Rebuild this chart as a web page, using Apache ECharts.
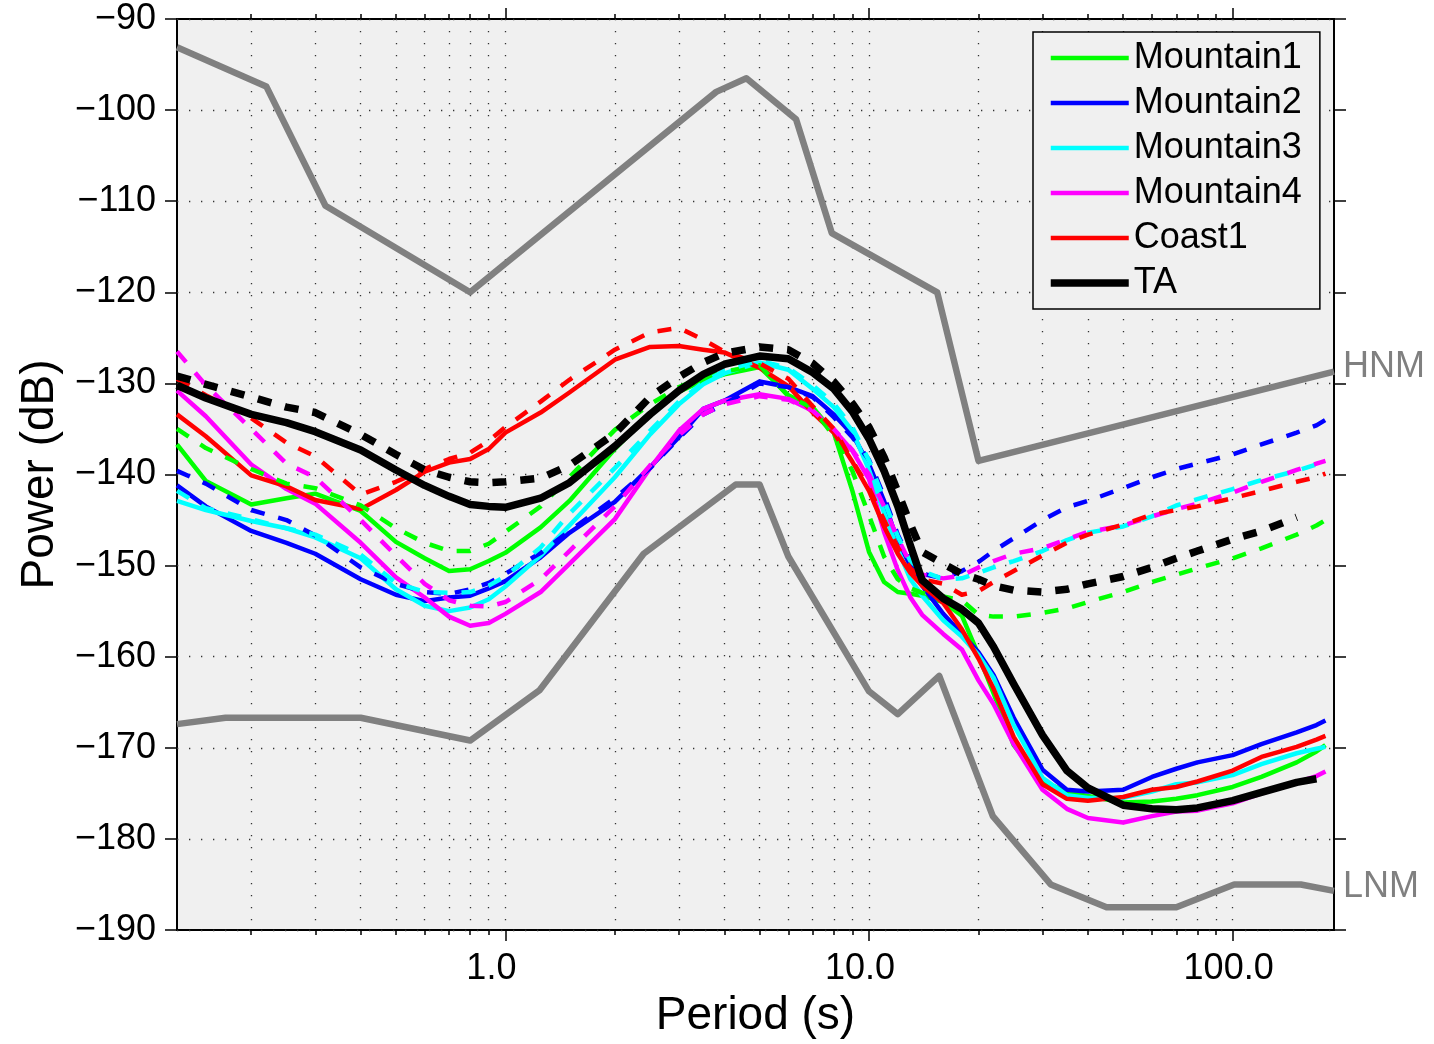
<!DOCTYPE html>
<html>
<head>
<meta charset="utf-8">
<title>PSD</title>
<script src="https://cdn.jsdelivr.net/npm/echarts@6/dist/echarts.min.js"></script>
<style>
html, body { margin: 0; padding: 0; background: #fff; }
#psdChart { width: 1434px; height: 1044px; }
</style>
</head>
<body>
<div id="psdChart"></div>
<script>
var psdChart = echarts.init(document.getElementById('psdChart'), null, { renderer: 'canvas' });

// period grid (s) shared by the station curves
var periods = [0.125, 0.15, 0.2, 0.25, 0.3, 0.4, 0.5, 0.6, 0.7, 0.8,
    0.9, 1.0, 1.25, 1.5, 2, 2.5, 3, 3.5, 4, 5,
    6, 7, 8, 9, 10, 11, 12, 13, 14, 16,
    18, 20, 22, 25, 30, 35, 40, 50, 60, 70,
    80, 100, 120, 150, 170, 180];

var mountain1 = [-136.7, -140.7, -143.3, -142.6, -142.1, -144.0, -147.4, -149.2, -150.6, -150.4,
    -149.5, -148.6, -145.8, -142.9, -137.2, -133.3, -130.9, -129.7, -129.0, -128.2,
    -131.3, -132.6, -135.4, -141.8, -148.5, -151.8, -152.9, -153.1, -153.3, -154.0,
    -155.5, -159.8, -164.0, -169.7, -173.7, -174.8, -175.3, -176.0, -175.9, -175.6,
    -175.2, -174.3, -173.2, -171.6, -170.4, -169.7];
var mountain1Dash = [-135.0, -137.1, -139.4, -141.0, -141.5, -143.4, -145.9, -147.5, -148.4, -148.4,
    -147.6, -146.3, -143.5, -140.3, -135.1, -132.3, -130.4, -129.3, -128.7, -128.0,
    -131.4, -132.7, -135.8, -139.6, -144.5, -149.0, -151.5, -152.5, -153.0, -153.4,
    -153.8, -155.4, -155.6, -155.6, -155.2, -154.7, -154.0, -152.9, -151.8, -151.0,
    -150.3, -149.2, -148.1, -146.6, -145.6, -145.0];

var mountain2 = [-141.2, -143.5, -146.2, -147.5, -148.7, -151.5, -153.2, -153.9, -153.5, -153.3,
    -152.5, -151.7, -149.1, -146.4, -143.0, -139.2, -135.9, -132.8, -131.9, -129.8,
    -130.4, -131.4, -133.4, -135.6, -138.9, -142.9, -147.4, -150.0, -152.2, -155.3,
    -157.5, -159.5, -162.0, -166.7, -172.4, -174.6, -174.8, -174.6, -173.2, -172.3,
    -171.6, -170.8, -169.6, -168.3, -167.5, -167.0];
var mountain2Dash = [-139.6, -141.0, -143.9, -145.0, -146.7, -150.2, -152.0, -152.9, -153.1, -152.6,
    -151.9, -150.9, -148.6, -146.2, -142.6, -139.3, -136.0, -133.4, -132.3, -130.0,
    -130.4, -131.5, -133.7, -135.9, -138.4, -142.4, -146.6, -149.5, -150.9, -151.4,
    -150.6, -149.6, -148.4, -147.0, -145.0, -143.6, -142.9, -141.5, -140.3, -139.4,
    -138.8, -137.8, -136.7, -135.4, -134.6, -134.0];

var mountain3 = [-142.9, -143.9, -145.1, -145.9, -146.9, -149.2, -152.6, -154.4, -155.0, -154.6,
    -153.7, -152.3, -148.9, -145.6, -140.3, -135.6, -132.3, -130.1, -128.9, -127.7,
    -128.5, -130.6, -132.6, -135.2, -139.5, -144.2, -148.2, -151.5, -153.3, -156.0,
    -157.8, -159.8, -162.3, -167.5, -173.3, -175.2, -175.5, -175.5, -174.8, -174.0,
    -173.8, -173.0, -171.8, -170.6, -170.1, -169.9];
var mountain3Dash = [-141.8, -143.7, -144.9, -145.9, -146.6, -148.8, -151.9, -152.9, -153.0, -152.9,
    -152.2, -151.2, -148.0, -144.3, -139.3, -135.2, -132.0, -129.9, -128.6, -127.5,
    -128.3, -130.2, -132.2, -134.8, -138.5, -142.8, -146.8, -149.5, -150.6, -151.5,
    -151.4, -150.8, -150.2, -149.5, -148.4, -147.2, -146.4, -145.7, -144.6, -143.4,
    -142.7, -141.6, -140.6, -139.6, -138.9, -138.5];

var mountain4 = [-130.8, -133.6, -138.9, -141.6, -143.2, -147.5, -151.3, -153.5, -155.6, -156.6,
    -156.3, -155.3, -152.9, -149.8, -144.9, -139.3, -135.2, -132.8, -131.9, -131.2,
    -131.7, -133.0, -135.1, -137.4, -140.5, -146.3, -150.5, -153.5, -155.4, -157.5,
    -159.2, -162.6, -165.2, -169.6, -174.6, -176.7, -177.7, -178.2, -177.5, -177.0,
    -176.9, -176.1, -175.0, -173.8, -173.1, -172.6];
var mountain4Dash = [-126.5, -130.2, -135.0, -138.8, -140.3, -145.0, -148.9, -152.0, -153.8, -154.4,
    -154.5, -154.0, -151.5, -148.4, -143.5, -139.0, -135.7, -133.4, -132.3, -131.4,
    -131.8, -133.0, -135.0, -137.3, -140.0, -143.5, -147.0, -149.8, -151.0, -151.4,
    -151.1, -150.2, -149.5, -148.7, -148.1, -147.1, -146.3, -145.6, -144.6, -143.8,
    -143.2, -142.0, -140.8, -139.5, -138.8, -138.5];

var coast1 = [-133.4, -135.8, -140.1, -141.3, -142.8, -143.8, -141.7, -139.7, -138.7, -138.3,
    -137.2, -135.4, -133.2, -131.0, -127.4, -126.0, -125.9, -126.3, -126.6, -128.3,
    -130.3, -133.2, -135.4, -138.6, -141.8, -145.7, -148.7, -150.8, -152.2, -154.1,
    -157.0, -160.2, -163.5, -168.8, -174.0, -175.6, -175.8, -175.4, -174.6, -174.3,
    -173.7, -172.5, -171.0, -169.9, -169.1, -168.7];
var coast1Dash = [-129.5, -131.3, -133.8, -136.5, -138.0, -142.2, -140.8, -139.4, -138.3, -137.6,
    -136.3, -134.8, -132.0, -129.6, -126.3, -124.4, -123.9, -125.2, -126.5, -127.8,
    -129.5, -132.5, -135.0, -138.5, -141.5, -145.0, -148.0, -150.3, -151.5, -152.0,
    -153.2, -152.8, -151.8, -150.6, -148.9, -147.5, -146.6, -145.5, -144.4, -143.9,
    -143.5, -142.6, -141.8, -140.8, -140.3, -139.9];

var ta = [-130.2, -131.6, -133.4, -134.3, -135.3, -137.3, -139.5, -141.2, -142.4, -143.3,
    -143.5, -143.6, -142.6, -140.9, -136.9, -133.4, -130.8, -129.0, -127.9, -127.0,
    -127.3, -128.8, -130.6, -133.1, -136.1, -139.6, -143.5, -147.8, -151.6, -153.6,
    -154.8, -156.3, -158.9, -163.0, -168.6, -172.5, -174.4, -176.3, -176.7, -176.8,
    -176.6, -175.8, -174.9, -173.8, -173.4, null];
var taDash = [-129.2, -130.1, -131.5, -132.6, -133.2, -135.6, -137.8, -139.5, -140.3, -140.8,
    -140.9, -140.8, -140.4, -139.0, -135.5, -131.5, -129.3, -127.7, -126.7, -126.0,
    -126.3, -127.8, -129.8, -132.2, -134.8, -138.1, -141.9, -145.5, -148.5, -149.8,
    -150.9, -151.5, -152.2, -152.7, -152.9, -152.6, -152.0, -151.2, -150.2, -149.2,
    -148.4, -147.1, -146.2, -144.7, null, null];

// Peterson noise models as drawn
var hnmPeriods = [0.125, 0.22, 0.32, 0.8, 3.8, 4.6, 6.3, 7.9, 15.4, 20, 190];
var hnmValues = [-93.1, -97.4, -110.5, -120.0, -98.0, -96.5, -101.0, -113.5, -120.0, -138.5, -128.7];
var lnmPeriods = [0.125, 0.17, 0.4, 0.8, 1.24, 2.4, 4.3, 5.0, 6.0, 10, 12, 15.6, 21.9, 31.6, 45, 70, 101, 154, 190];
var lnmValues = [-167.4, -166.7, -166.7, -169.2, -163.7, -148.7, -141.1, -141.1, -149.0, -163.8,
    -166.3, -162.1, -177.5, -185.0, -187.5, -187.5, -185.0, -185.0, -185.7];

var majorTicks = [1, 10, 100];
var majorLabels = ['1.0', '10.0', '100.0'];
var minorTicks = [0.2, 0.3, 0.4, 0.5, 0.6, 0.7, 0.8, 0.9, 1,
    2, 3, 4, 5, 6, 7, 8, 9, 10,
    20, 30, 40, 50, 60, 70, 80, 90, 100];

var xMin = 0.125, xMax = 190;
var font = '"Liberation Sans", Arial, Helvetica, sans-serif';
var tickStyle = { color: '#000', width: 1.5 };
var dotStyle = { color: '#333', width: 1.3, type: [1.3, 10.7] };

var pairs = function (xs, ys) {
    var out = [];
    for (var i = 0; i < xs.length; i++) {
        if (ys[i] != null) out.push([xs[i], ys[i]]);
    }
    return out;
};

var makeLine = function (name, xs, ys, color, width, dashed, z) {
    return {
        name: name,
        type: 'line',
        xAxisIndex: 0,
        yAxisIndex: 0,
        data: pairs(xs, ys),
        symbol: 'none',
        silent: true,
        z: z,
        lineStyle: { color: color, width: width, type: dashed ? [14, 14] : 'solid', cap: 'butt', join: 'round' },
        itemStyle: { color: color }
    };
};

var logPos = function (arr) { return arr.map(function (v) { return Math.log10(v); }); };

var decoAxis = function (position, ticks, len, split) {
    return {
        type: 'value',
        position: position,
        min: Math.log10(xMin),
        max: Math.log10(xMax),
        axisLine: { show: false, onZero: false },
        axisTick: { show: true, customValues: logPos(ticks), length: len, lineStyle: tickStyle },
        axisLabel: { show: false },
        splitLine: { show: split, lineStyle: dotStyle }
    };
};

var labelAxis = decoAxis('bottom', majorTicks, 11, false);
labelAxis.axisLabel = {
    show: true,
    customValues: logPos(majorTicks),
    fontSize: 36,
    fontFamily: font,
    color: '#000',
    margin: 21,
    formatter: function (v) {
        for (var i = 0; i < majorTicks.length; i++) {
            if (Math.abs(Math.log10(majorTicks[i]) - v) < 1e-6) return '{t' + i + '|' + majorLabels[i] + '}';
        }
        return '';
    },
    rich: {
        t0: { fontSize: 36, fontFamily: font, color: '#000', padding: [0, 28, 0, 0] },
        t1: { fontSize: 36, fontFamily: font, color: '#000', padding: [0, 18, 0, 0] },
        t2: { fontSize: 36, fontFamily: font, color: '#000', padding: [0, 8, 0, 0] }
    }
};
labelAxis.name = 'Period (s)';
labelAxis.nameLocation = 'middle';
labelAxis.nameGap = 63;
labelAxis.nameTextStyle = { fontSize: 46, fontFamily: font, color: '#000' };

var hnmSeries = makeLine('HNM', hnmPeriods, hnmValues, '#808080', 6.5, false, 2);
var lnmSeries = makeLine('LNM', lnmPeriods, lnmValues, '#808080', 6.5, false, 2);
[hnmSeries, lnmSeries].forEach(function (s) {
    s.endLabel = { show: true, formatter: '{a}', color: '#808080', fontSize: 36, fontFamily: font, distance: 9, offset: [0, -4] };
});

var option = {
    animation: false,
    backgroundColor: '#fff',
    grid: {
        left: 177, right: 100, top: 19, bottom: 112,
        show: true, backgroundColor: '#f0f0f0', borderColor: '#000', borderWidth: 2
    },
    legend: {
        data: ['Mountain1', 'Mountain2', 'Mountain3', 'Mountain4', 'Coast1', 'TA'],
        orient: 'vertical',
        left: 1033,
        top: 32,
        padding: [8, 18, 8, 14],
        itemGap: 9,
        itemWidth: 78,
        itemHeight: 1,
        backgroundColor: '#f0f0f0',
        borderColor: '#000',
        borderWidth: 1.5,
        selectedMode: false,
        itemStyle: { opacity: 0 },
        lineStyle: { width: 'inherit' },
        textStyle: { fontSize: 36, lineHeight: 36, color: '#000', fontFamily: font }
    },
    xAxis: [
        { type: 'log', logBase: 10, min: xMin, max: xMax, show: false, axisLine: { onZero: false } },
        decoAxis('bottom', minorTicks, 5, true),
        labelAxis,
        decoAxis('top', minorTicks, 5, false),
        decoAxis('top', majorTicks, 11, false)
    ],
    yAxis: [
        {
            type: 'value', min: -190, max: -90, interval: 10, position: 'left',
            name: 'Power (dB)', nameLocation: 'middle', nameGap: 114,
            nameTextStyle: { fontSize: 46, fontFamily: font, color: '#000' },
            axisLine: { show: false, onZero: false },
            axisTick: { show: true, length: 12, lineStyle: tickStyle },
            axisLabel: {
                fontSize: 36, fontFamily: font, color: '#000', margin: 21,
                formatter: function (v) { return v < 0 ? '\u2212' + Math.abs(v) : String(v); }
            },
            splitLine: { show: true, lineStyle: dotStyle }
        },
        {
            type: 'value', min: -190, max: -90, interval: 10, position: 'right',
            axisLine: { show: false, onZero: false },
            axisTick: { show: true, length: 12, lineStyle: tickStyle },
            axisLabel: { show: false },
            splitLine: { show: false }
        }
    ],
    series: [
        hnmSeries,
        lnmSeries,
        makeLine('Mountain1', periods, mountain1, '#00ff00', 4.5, false, 3),
        makeLine('Mountain2', periods, mountain2, '#0000ff', 4.5, false, 3),
        makeLine('Mountain3', periods, mountain3, '#00ffff', 4.5, false, 3),
        makeLine('Mountain4', periods, mountain4, '#ff00ff', 4.5, false, 3),
        makeLine('Coast1', periods, coast1, '#ff0000', 4.5, false, 3),
        makeLine('Mountain1 dashed', periods, mountain1Dash, '#00ff00', 4.5, true, 4),
        makeLine('Mountain2 dashed', periods, mountain2Dash, '#0000ff', 4.5, true, 4),
        makeLine('Mountain3 dashed', periods, mountain3Dash, '#00ffff', 4.5, true, 4),
        makeLine('Mountain4 dashed', periods, mountain4Dash, '#ff00ff', 4.5, true, 4),
        makeLine('Coast1 dashed', periods, coast1Dash, '#ff0000', 4.5, true, 4),
        makeLine('TA', periods, ta, '#000000', 7.5, false, 5),
        makeLine('TA dashed', periods, taDash, '#000000', 7.5, true, 5)
    ]
};

psdChart.setOption(option);
window.onresize = function () { psdChart.resize(); };
</script>
</body>
</html>
